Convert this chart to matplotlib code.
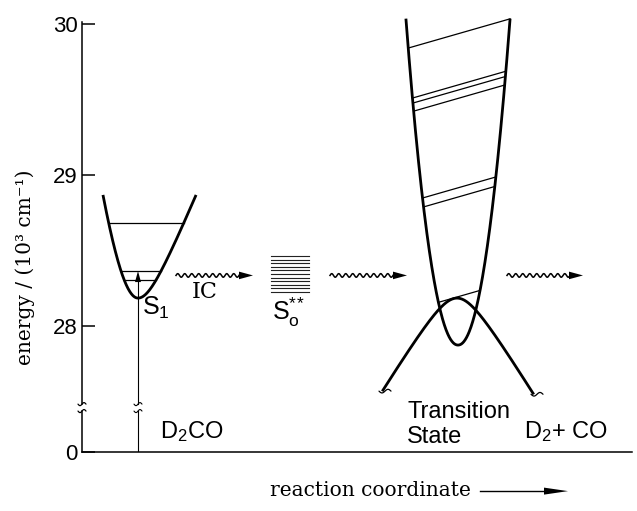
import matplotlib.pyplot as plt
import numpy as np

plt.rcParams['font.family'] = ['Liberation Sans', 'DejaVu Sans']
plt.rcParams['mathtext.fontset'] = 'custom'
plt.rcParams['mathtext.rm'] = 'Liberation Sans'
plt.rcParams['mathtext.it'] = 'Liberation Sans:italic'

# energy in 10^3 cm^-1, axis broken between 0 and 28
ZERO = 27.166                      # where E = 0 sits on the broken axis
tick_vals = [ZERO, 28, 29, 30]
tick_labels = ['0', '28', '29', '30']
axis_break = (27.437, 27.483)

# S1 well
s1_center, s1_min, s1_top = 138, 28.185, 28.868
s1_levels = [28.305, 28.364, 28.682]
s1_excite = 28.364

# hot ground state levels S0**
s0_levels = [28.464, 28.440, 28.416, 28.393, 28.369, 28.345,
             28.321, 28.297, 28.273, 28.249, 28.225]
s0_span = (271, 309)

# S0 well at the transition state, levels tilted
ts_center, ts_min, ts_top = 458, 27.874, 30.026
ts_levels = [29.935, 29.596, 29.562, 29.507, 28.915, 28.854, 28.194]
level_tilt = 0.0019

# barrier (inverted)
bar_center, bar_peak = 457, 28.185
bar_span = (-74, 76)

# wavy arrows (start, end)
wave_arrows = [(176, 253), (330, 407), (507, 583)]
wave_level = 28.335

K = 151.0   # x units per 10^3 cm^-1 on the drawing
S1_L = (7.83, 40)
S1_R = (2.41, 18)
TS_A, TS_P = 0.0877, 2.08
BAR = (1.624, 20)


def arm(dx, s, w):
    return s * (np.sqrt(dx**2 + w**2) - w) / K


def arm_inv(de, s, w):
    return np.sqrt((w + de * K / s)**2 - w**2)


def ts_well(dx):
    return ts_min + TS_A * np.abs(dx)**TS_P / K


def squiggle(ax, x0, e0, w=12, amp=1.8, lw=0.9):
    xs = np.linspace(-w / 2, w / 2, 40)
    ax.plot(x0 + xs, e0 + amp / K * np.sin(2 * np.pi * xs / w),
            color='k', lw=lw, clip_on=False, solid_capstyle='round')


def wavy_arrow(ax, x0, x1, e):
    xs = np.linspace(x0, x1 - 12, 300)
    ys = e + 1.8 / K * np.sin(2 * np.pi * (xs - x0) / 7)
    ax.plot(xs, ys, color='k', lw=1.1)
    ax.fill([x1 - 14, x1, x1 - 14], [e + 3.8 / K, e, e - 3.8 / K],
            color='k', lw=0)


fig = plt.figure(figsize=(6.37, 5.11), dpi=100)
ax = fig.add_axes([82 / 637, 59 / 511, 550 / 637, 430 / 511])
ax.set_xlim(82, 632)
ax.set_ylim(ZERO, 30.013)

for side in ['top', 'right']:
    ax.spines[side].set_visible(False)
ax.spines['bottom'].set_linewidth(1.1)
ax.spines['left'].set_linewidth(1.1)
ax.spines['left'].set_bounds(axis_break[1], 30.013)
ax.plot([82, 82], [ZERO, axis_break[0]], color='k', lw=1.1, clip_on=False)
squiggle(ax, 82, axis_break[0], w=8, amp=1.5)
squiggle(ax, 82, axis_break[1], w=8, amp=1.5)

ax.set_xticks([])
ax.set_yticks(tick_vals)
ax.set_yticklabels(tick_labels)
ax.tick_params(axis='y', direction='in', length=9, width=1.1,
               labelsize=16, pad=3)

# S1 well
de = s1_top - s1_min
dl = np.linspace(arm_inv(de, *S1_L), 0, 120)
dr = np.linspace(0, arm_inv(de, *S1_R), 120)
ax.plot(np.r_[s1_center - dl, s1_center + dr],
        s1_min + np.r_[arm(dl, *S1_L), arm(dr, *S1_R)],
        color='k', lw=2.0, solid_capstyle='butt')
for lev in s1_levels:
    d = lev - s1_min
    ax.plot([s1_center - arm_inv(d, *S1_L), s1_center + arm_inv(d, *S1_R)],
            [lev, lev], color='k', lw=0.9)

# excitation arrow from the ground state
ax.plot([s1_center, s1_center], [ZERO, axis_break[0]], color='k', lw=0.8)
ax.plot([s1_center, s1_center], [axis_break[1], s1_excite - 8 / K],
        color='k', lw=0.8)
squiggle(ax, s1_center, axis_break[0], w=8, amp=1.5, lw=0.8)
squiggle(ax, s1_center, axis_break[1], w=8, amp=1.5, lw=0.8)
ax.fill([s1_center - 3, s1_center, s1_center + 3],
        [s1_excite - 11 / K, s1_excite, s1_excite - 11 / K],
        color='k', lw=0)

# S0** levels
for lev in s0_levels:
    ax.plot(s0_span, [lev, lev], color='#222222', lw=0.8)

# transition state well
dmax = (K * (ts_top - ts_min) / TS_A)**(1 / TS_P)
dd = np.linspace(-dmax, dmax, 300)
ax.plot(ts_center + dd, ts_well(dd), color='k', lw=2.0, clip_on=False)
uu = np.linspace(0, 1.3 * dmax, 20001)
for lev in ts_levels:
    ul = uu[np.argmax(ts_well(uu) >= lev - level_tilt * uu)]
    ur = uu[np.argmax(ts_well(uu) >= lev + level_tilt * uu)]
    ax.plot([ts_center - ul, ts_center + ur],
            [lev - level_tilt * ul, lev + level_tilt * ur],
            color='k', lw=0.9, clip_on=False)

# barrier
bx = np.linspace(bar_span[0], bar_span[1], 300)
by = bar_peak - arm(bx, *BAR)
ax.plot(bar_center + bx, by, color='k', lw=2.0)
squiggle(ax, bar_center + bx[0] + 2, by[0] - 1 / K, w=12, amp=1.8)
squiggle(ax, bar_center + bx[-1] + 4, by[-1] - 1 / K, w=12, amp=1.8)

# wavy arrows
for x0, x1 in wave_arrows:
    wavy_arrow(ax, x0, x1, wave_level)

# labels
sans = dict(fontsize=17, color='k')
ax.text(142, 28.073, r'$\mathrm{S_1}$', ha='left', va='baseline',
        fontsize=18)
ax.text(272, 28.040, r'$\mathrm{S_o^{*\!*}}$', ha='left',
        va='baseline', fontsize=18)
ax.text(205, 28.225, 'IC', ha='center', va='center', fontsize=16,
        family='DejaVu Serif')
ax.text(407, 27.391, 'Transition', ha='left', va='baseline', **sans)
ax.text(407, 27.225, 'State', ha='left', va='baseline', **sans)
ax.text(160, 27.258, r'$\mathrm{D_2CO}$', ha='left', va='baseline', **sans)
ax.text(524, 27.258, r'$\mathrm{D_2}$+ CO', ha='left', va='baseline', **sans)

# axis titles
ax.text(-0.104, 0.43, 'energy / (10³ cm⁻¹)', rotation=90, ha='center',
        va='center', fontsize=14.5, family='DejaVu Serif',
        transform=ax.transAxes)
ax.text(370, 26.912, 'reaction coordinate', ha='center', va='center',
        fontsize=14.5, family='DejaVu Serif', clip_on=False)
ax.plot([480, 546], [26.907, 26.907], color='k', lw=1.0, clip_on=False)
ax.fill([544, 568, 544], [26.907 + 3.5 / K, 26.907, 26.907 - 3.5 / K],
        color='k', lw=0, clip_on=False)

fig.savefig('out.png', dpi=100)
